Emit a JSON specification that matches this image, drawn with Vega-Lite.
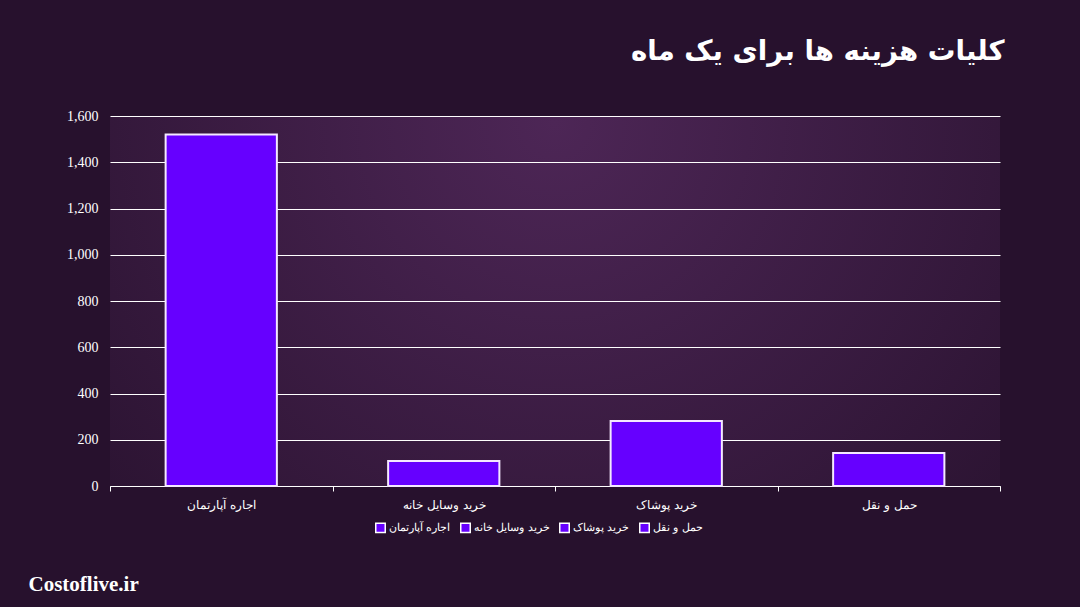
{
  "$schema": "https://vega.github.io/schema/vega-lite/v6.json",
  "width": 890,
  "height": 370,
  "autosize": {"type": "none"},
  "padding": {"left": 110, "top": 116, "right": 80, "bottom": 121},
  "background": "#27112d",
  "title": {
    "text": "کلیات هزینه ها برای یک ماه",
    "anchor": "end",
    "orient": "top",
    "offset": 43,
    "font": "DejaVu Sans",
    "fontWeight": "bold",
    "fontSize": 27.6,
    "color": "#ffffff",
    "dx": 4
  },
  "data": {
    "values": [
      {"category": "اجاره آپارتمان", "cost": 1520},
      {"category": "خرید وسایل خانه", "cost": 108},
      {"category": "خرید پوشاک", "cost": 281},
      {"category": "حمل و نقل", "cost": 143}
    ]
  },
  "mark": {"type": "bar", "fill": "#6600ff", "stroke": "#f4e8ff", "strokeWidth": 2, "width": {"band": 0.5}},
  "encoding": {
    "x": {
      "field": "category",
      "type": "nominal",
      "sort": null,
      "scale": {"paddingInner": 0, "paddingOuter": 0},
      "axis": {
        "title": "Costoflive.ir",
        "titleAnchor": "start",
        "titleAlign": "left",
        "titleX": -82,
        "titleY": 98,
        "titleBaseline": "middle",
        "titleFont": "Liberation Serif",
        "titleFontWeight": "bold",
        "titleFontSize": 21,
        "titleColor": "#ffffff",
        "labelAngle": 0,
        "labelColor": "#ffffff",
        "labelFont": "DejaVu Serif",
        "labelFontSize": 12,
        "labelPadding": 8,
        "domainColor": "#ffffff",
        "domainWidth": 1,
        "tickColor": "#ffffff",
        "tickSize": 5,
        "tickBand": "extent",
        "grid": false
      }
    },
    "y": {
      "field": "cost",
      "type": "quantitative",
      "scale": {"domain": [0, 1600]},
      "axis": {
        "title": null,
        "values": [0, 200, 400, 600, 800, 1000, 1200, 1400, 1600],
        "format": ",d",
        "labelColor": "#ffffff",
        "labelFont": "Liberation Serif",
        "labelFontSize": 14,
        "labelPadding": 12,
        "domain": false,
        "ticks": false,
        "grid": true,
        "gridColor": "#ffffff",
        "gridWidth": 1,
        "gridOpacity": 1
      }
    },
    "color": {
      "field": "category",
      "type": "nominal",
      "scale": {
        "domain": ["اجاره آپارتمان", "خرید وسایل خانه", "خرید پوشاک", "حمل و نقل"],
        "range": ["#6600ff", "#6600ff", "#6600ff", "#6600ff"]
      },
      "legend": {
        "title": null,
        "orient": "none",
        "direction": "horizontal",
        "legendX": 265,
        "legendY": 406,
        "symbolType": "square",
        "symbolSize": 90,
        "symbolStrokeColor": "#ffffff",
        "symbolStrokeWidth": 1.5,
        "symbolOpacity": 1,
        "labelColor": "#ffffff",
        "labelFont": "DejaVu Serif",
        "labelFontSize": 11,
        "labelOffset": 3,
        "columnPadding": 6
      }
    }
  },
  "config": {
    "view": {
      "stroke": null,
      "fill": {
        "gradient": "radial",
        "x1": 0.5, "y1": 0.3, "r1": 0,
        "x2": 0.5, "y2": 0.3, "r2": 0.75,
        "stops": [
          {"offset": 0, "color": "#4d2656"},
          {"offset": 1, "color": "#27112d"}
        ]
      }
    }
  }
}
